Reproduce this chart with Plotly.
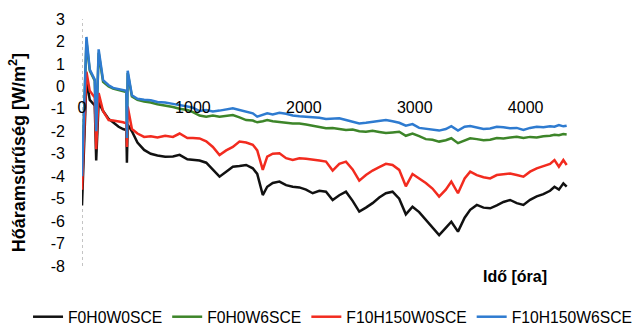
import plotly.graph_objects as go

# Measurement time [hours]
hours = [0, 40, 70, 115, 128, 150, 190, 240, 280, 330, 370, 400, 405, 412, 450, 500,
         560, 620, 680, 750, 820, 880, 950, 1000, 1060, 1120, 1180, 1240, 1300, 1360,
         1420, 1480, 1540, 1580, 1630, 1670, 1720, 1780, 1840, 1900, 1960, 2020, 2080,
         2140, 2200, 2260, 2320, 2380, 2440, 2500, 2560, 2620, 2680, 2740, 2800, 2860,
         2920, 2980, 3040, 3100, 3160, 3220, 3280, 3330, 3390, 3450, 3500, 3560, 3620,
         3680, 3740, 3800, 3860, 3920, 3980, 4040, 4100, 4160, 4220, 4260, 4300, 4340, 4370]

# Heat flux density [W/m2] per specimen
f0h0w0sce = [-5.3, 0.3, -0.6, -0.85, -3.3, -0.7, -1.1, -1.45, -1.6, -1.8, -1.9, -1.95, -3.4, -1.7,
             -2.0, -2.5, -2.83, -3.0, -3.08, -3.13, -3.12, -3.05, -3.25, -3.28, -3.3, -3.4, -3.7,
             -4.02, -3.8, -3.58, -3.55, -3.5, -3.65, -3.9, -4.84, -4.47, -4.3, -4.24, -4.4, -4.47,
             -4.5, -4.6, -4.76, -4.65, -4.69, -5.06, -4.85, -4.69, -5.1, -5.58, -5.4, -5.2, -4.95,
             -4.76, -4.69, -5.0, -5.7, -5.36, -5.6, -5.95, -6.3, -6.62, -6.3, -6.03, -6.47, -5.85,
             -5.5, -5.28, -5.4, -5.43, -5.3, -5.15, -5.06, -5.2, -5.28, -5.05, -4.9, -4.8, -4.65,
             -4.47, -4.6, -4.32, -4.47]

f0h0w6sce = [-4.0, 2.0, 0.7, 0.25, -2.0, 1.5, 0.2, 0.0, -0.1, -0.15, -0.2, -0.25, -2.3, 0.6,
             -0.45, -0.6, -0.68, -0.72, -0.8, -0.85, -0.92, -1.0, -1.05, -1.15, -1.3, -1.35, -1.3,
             -1.35, -1.32, -1.28, -1.38, -1.5, -1.52, -1.6, -1.55, -1.5, -1.55, -1.57, -1.62, -1.65,
             -1.65, -1.7, -1.75, -1.8, -1.87, -1.85, -1.9, -1.94, -1.92, -2.0, -2.02, -1.98, -2.03,
             -2.08, -2.05, -2.02, -2.2, -2.1, -2.22, -2.35, -2.38, -2.46, -2.4, -2.31, -2.53, -2.4,
             -2.31, -2.35, -2.4, -2.38, -2.3, -2.32, -2.28, -2.24, -2.3, -2.25, -2.28, -2.22, -2.2,
             -2.16, -2.18, -2.12, -2.14]

f10h150w0sce = [-4.6, 0.65, -0.2, -0.5, -2.8, -0.3, -1.1, -1.5, -1.52, -1.55, -1.6, -1.65, -2.7, -0.9,
                -1.9, -2.1, -2.25, -2.22, -2.28, -2.2, -2.25, -2.1, -2.3, -2.3, -2.32, -2.45, -2.7,
                -3.06, -2.85, -2.7, -2.46, -2.5, -2.6, -2.85, -3.72, -3.13, -3.0, -2.98, -3.2, -3.28,
                -3.2, -3.22, -3.25, -3.3, -3.35, -3.75, -3.45, -3.35, -3.7, -4.2, -3.95, -3.75, -3.6,
                -3.45, -3.5, -3.72, -4.45, -3.9, -4.1, -4.3, -4.55, -4.91, -4.6, -4.24, -4.76, -4.1,
                -3.8, -3.95, -4.05, -4.1, -3.95, -3.9, -3.88, -3.95, -4.02, -3.8, -3.65, -3.55, -3.45,
                -3.28, -3.58, -3.28, -3.5]

f10h150w6sce = [-4.0, 2.2, 0.75, 0.3, -2.0, 1.65, 0.28, 0.05, -0.07, -0.12, -0.16, -0.2, -2.3, 0.7,
                -0.4, -0.55, -0.6, -0.62, -0.7, -0.72, -0.78, -0.85, -0.9, -0.95, -1.1, -1.05, -1.12,
                -1.08, -1.02, -0.98, -1.05, -1.13, -1.2, -1.35, -1.25, -1.2, -1.25, -1.18, -1.22, -1.3,
                -1.33, -1.35, -1.35, -1.4, -1.45, -1.42, -1.42, -1.5, -1.58, -1.65, -1.62, -1.57, -1.55,
                -1.5, -1.55, -1.62, -1.75, -1.68, -1.85, -1.9, -1.92, -1.97, -1.9, -1.77, -1.97, -1.8,
                -1.77, -1.85, -1.9, -1.88, -1.8, -1.82, -1.87, -1.85, -1.94, -1.85, -1.8, -1.82, -1.78,
                -1.8, -1.72, -1.78, -1.75]

# y tick values with plain hyphen labels
y_ticks = [3, 2, 1, 0, -1, -2, -3, -4, -5, -6, -7, -8]
y_tick_labels = ["3", "2", "1", "0", "-1", "-2", "-3", "-4", "-5", "-6", "-7", "-8"]

series = [
    ("F0H0W0SCE", f0h0w0sce, "#111111"),
    ("F0H0W6SCE", f0h0w6sce, "#3D8529"),
    ("F10H150W0SCE", f10h150w0sce, "#F22B1F"),
    ("F10H150W6SCE", f10h150w6sce, "#2E7BD0"),
]

fig = go.Figure()
for name, vals, color in series:
    fig.add_trace(go.Scatter(x=hours, y=vals, mode="lines", name=name,
                             line=dict(color=color, width=2.5)))

font = "Liberation Sans, Arial, sans-serif"

# dotted vertical axis line at t = 0
fig.add_shape(type="line", xref="x", yref="paper", x0=0, x1=0, y0=0, y1=1,
              line=dict(color="#8a8a8a", width=1, dash="dot"), layer="below")

fig.add_annotation(text="<b>Hőáramsűrűség [W/m<sup>2</sup>]</b>", textangle=-90,
                   xref="paper", yref="paper", x=-0.117, y=0.46,
                   xanchor="center", yanchor="middle",
                   showarrow=False, font=dict(family=font, size=18, color="#000"))
fig.add_annotation(text="<b>Idő [óra]</b>", xref="paper", yref="paper",
                   x=0.788, y=-0.0405, xanchor="center", yanchor="middle",
                   showarrow=False, font=dict(family=font, size=16, color="#000"))

fig.update_layout(
    width=635, height=327,
    margin=dict(l=82, r=3.55, t=19, b=61, autoexpand=False),
    paper_bgcolor="white", plot_bgcolor="white",
    font=dict(family=font, size=16, color="#000"),
    showlegend=True,
    legend=dict(orientation="h", xref="paper", yref="paper",
                x=-0.0983, y=-0.2065, xanchor="left", yanchor="middle",
                font=dict(family=font, size=15.7, color="#000"),
                tracegroupgap=0, bgcolor="rgba(0,0,0,0)"),
    xaxis=dict(range=[0, 4950], dtick=1000, tick0=0, showgrid=False, zeroline=False,
               showline=False, ticks="", anchor="free", position=8 / 11,
               ticklabelstandoff=10, tickfont=dict(family=font, size=16)),
    yaxis=dict(range=[-8, 3], tickvals=y_ticks, ticktext=y_tick_labels,
               showgrid=False, zeroline=False, showline=False, ticks="",
               ticklabelstandoff=16, tickfont=dict(family=font, size=16)),
)

fig.write_html("out.html")
